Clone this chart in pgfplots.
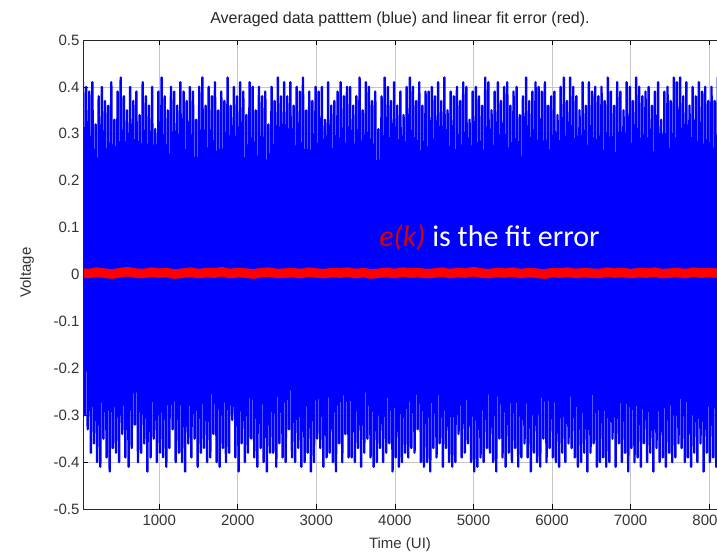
\documentclass[border=0pt]{standalone}
\usepackage{pgfplots}
\pgfplotsset{compat=1.18}
\usepackage{pgfplotstable}
\usepackage{fontspec}
\setmainfont{Liberation Sans}
\newfontfamily\calib{Carlito}

\pgfplotstableread[row sep=\\]{
y\\
0.41\\-0.30\\0.40\\-0.33\\0.39\\-0.38\\0.41\\-0.36\\0.32\\-0.40\\
0.38\\-0.41\\0.40\\-0.35\\0.37\\-0.39\\0.36\\-0.42\\0.41\\-0.37\\
0.33\\-0.38\\0.39\\-0.40\\0.42\\-0.34\\0.38\\-0.39\\0.35\\-0.41\\
0.40\\-0.37\\0.37\\-0.32\\0.39\\-0.40\\0.34\\-0.38\\0.41\\-0.36\\
0.38\\-0.42\\0.36\\-0.39\\0.40\\-0.35\\0.31\\-0.40\\0.39\\-0.38\\
0.42\\-0.39\\0.38\\-0.41\\0.35\\-0.37\\0.40\\-0.33\\0.39\\-0.40\\
0.36\\-0.38\\0.41\\-0.40\\0.39\\-0.42\\0.37\\-0.36\\0.40\\-0.39\\
0.39\\-0.35\\0.33\\-0.41\\0.40\\-0.38\\0.42\\-0.37\\0.36\\-0.40\\
0.40\\-0.39\\0.38\\-0.34\\0.41\\-0.40\\0.35\\-0.41\\0.39\\-0.37\\
0.37\\-0.40\\0.42\\-0.38\\0.36\\-0.31\\0.40\\-0.39\\0.38\\-0.42\\
0.41\\-0.36\\0.39\\-0.40\\0.34\\-0.38\\0.41\\-0.35\\0.40\\-0.39\\
0.35\\-0.41\\0.40\\-0.37\\0.38\\-0.40\\0.39\\-0.42\\0.32\\-0.38\\
0.40\\-0.38\\0.37\\-0.41\\0.42\\-0.36\\0.38\\-0.39\\0.41\\-0.40\\
0.38\\-0.33\\0.41\\-0.39\\0.36\\-0.40\\0.40\\-0.37\\0.39\\-0.41\\
0.42\\-0.40\\0.35\\-0.38\\0.39\\-0.42\\0.37\\-0.40\\0.40\\-0.35\\
0.39\\-0.37\\0.40\\-0.41\\0.33\\-0.39\\0.41\\-0.38\\0.36\\-0.40\\
0.37\\-0.42\\0.39\\-0.36\\0.41\\-0.40\\0.38\\-0.34\\0.40\\-0.39\\
0.40\\-0.39\\0.36\\-0.40\\0.38\\-0.37\\0.42\\-0.41\\0.35\\-0.38\\
0.41\\-0.35\\0.40\\-0.39\\0.37\\-0.41\\0.39\\-0.40\\0.31\\-0.37\\
0.38\\-0.40\\0.42\\-0.38\\0.40\\-0.36\\0.37\\-0.42\\0.41\\-0.39\\
0.36\\-0.41\\0.39\\-0.40\\0.34\\-0.38\\0.40\\-0.39\\0.42\\-0.37\\
0.40\\-0.38\\0.37\\-0.33\\0.41\\-0.40\\0.36\\-0.41\\0.39\\-0.40\\
0.39\\-0.42\\0.40\\-0.37\\0.38\\-0.39\\0.41\\-0.36\\0.37\\-0.41\\
0.42\\-0.37\\0.35\\-0.40\\0.39\\-0.41\\0.38\\-0.40\\0.40\\-0.34\\
0.37\\-0.39\\0.41\\-0.38\\0.40\\-0.36\\0.33\\-0.40\\0.39\\-0.42\\
0.40\\-0.41\\0.38\\-0.39\\0.36\\-0.40\\0.42\\-0.37\\0.41\\-0.38\\
0.35\\-0.40\\0.39\\-0.42\\0.41\\-0.35\\0.37\\-0.39\\0.40\\-0.41\\
0.41\\-0.38\\0.36\\-0.40\\0.39\\-0.37\\0.40\\-0.41\\0.34\\-0.39\\
0.38\\-0.36\\0.42\\-0.39\\0.37\\-0.42\\0.39\\-0.38\\0.41\\-0.40\\
0.40\\-0.41\\0.39\\-0.35\\0.41\\-0.40\\0.36\\-0.37\\0.38\\-0.39\\
0.39\\-0.40\\0.34\\-0.41\\0.40\\-0.38\\0.42\\-0.40\\0.37\\-0.36\\
0.42\\-0.37\\0.40\\-0.39\\0.38\\-0.41\\0.35\\-0.40\\0.41\\-0.38\\
0.36\\-0.42\\0.41\\-0.38\\0.39\\-0.36\\0.40\\-0.41\\0.38\\-0.40\\
0.40\\-0.39\\0.37\\-0.41\\0.42\\-0.40\\0.39\\-0.35\\0.36\\-0.41\\
0.41\\-0.36\\0.39\\-0.40\\0.35\\-0.38\\0.41\\-0.42\\0.40\\-0.37\\
0.37\\-0.40\\0.42\\-0.39\\0.40\\-0.41\\0.38\\-0.36\\0.39\\-0.40\\
0.40\\-0.38\\0.36\\-0.42\\0.39\\-0.37\\0.41\\-0.40\\0.33\\-0.39\\
0.39\\-0.41\\0.40\\-0.38\\0.37\\-0.40\\0.42\\-0.39\\0.41\\-0.36\\
0.42\\-0.37\\0.38\\-0.40\\0.41\\-0.39\\0.36\\-0.41\\0.40\\-0.38\\
0.38\\-0.40\\0.41\\-0.36\\0.39\\-0.42\\0.40\\-0.38\\0.37\\-0.40\\
0.40\\-0.39\\0.37\\-0.41\\0.42\\-0.38\\0.39\\-0.40\\0.41\\-0.37\\
}\bluedata

\pgfplotstableread[row sep=\\]{
x y\\
0 0.004\\ 100 0.002\\ 200 0.005\\ 300 0.003\\ 400 0.001\\ 500 0.004\\ 600 0.006\\ 700 0.003\\ 800 0.002\\ 900 0.005\\
1000 0.003\\ 1100 0.004\\ 1200 0.001\\ 1300 0.003\\ 1400 0.005\\ 1500 0.002\\ 1600 0.004\\ 1700 0.003\\ 1800 0.006\\ 1900 0.002\\
2000 0.004\\ 2100 0.003\\ 2200 0.001\\ 2300 0.004\\ 2400 0.005\\ 2500 0.002\\ 2600 0.003\\ 2700 0.004\\ 2800 0.002\\ 2900 0.005\\
3000 0.003\\ 3100 0.002\\ 3200 0.004\\ 3300 0.003\\ 3400 0.005\\ 3500 0.002\\ 3600 0.004\\ 3700 0.001\\ 3800 0.003\\ 3900 0.004\\
4000 0.002\\ 4100 0.005\\ 4200 0.003\\ 4300 0.004\\ 4400 0.002\\ 4500 0.003\\ 4600 0.005\\ 4700 0.002\\ 4800 0.004\\ 4900 0.003\\
5000 0.006\\ 5100 0.003\\ 5200 0.002\\ 5300 0.004\\ 5400 0.003\\ 5500 0.005\\ 5600 0.002\\ 5700 0.004\\ 5800 0.003\\ 5900 0.001\\
6000 0.004\\ 6100 0.003\\ 6200 0.005\\ 6300 0.002\\ 6400 0.004\\ 6500 0.003\\ 6600 0.002\\ 6700 0.005\\ 6800 0.003\\ 6900 0.004\\
7000 0.002\\ 7100 0.004\\ 7200 0.003\\ 7300 0.005\\ 7400 0.002\\ 7500 0.003\\ 7600 0.004\\ 7700 0.002\\ 7800 0.005\\ 7900 0.003\\
8000 0.004\\ 8100 0.003\\ 8200 0.004\\
}\reddata

\begin{document}
\begin{tikzpicture}
\begin{axis}[
  name=ax,
  scale only axis,
  width=634pt, height=469pt,
  xmin=30, xmax=8100,
  ymin=-0.5, ymax=0.5,
  xtick={1000,2000,3000,4000,5000,6000,7000,8000},
  ytick={-0.5,-0.4,-0.3,-0.2,-0.1,0,0.1,0.2,0.3,0.4,0.5},
  yticklabels={-0.5,-0.4,-0.3,-0.2,-0.1,0,0.1,0.2,0.3,0.4,0.5},
  scaled ticks=false,
  /pgf/number format/1000 sep={},
  /pgf/number format/assume math mode=true,
  tick label style={font=\fontsize{15}{18}\selectfont, text=black!80},
  xticklabel style={yshift=-2pt},
  tick align=inside,
  major tick length=5pt,
  xtick pos=both,
  ytick pos=left,
  tick style={black, line width=0.6pt},
  grid=major,
  grid style={gray!45, line width=0.7pt},
  axis line style={draw=none},
  clip=true,
]
\addplot[blue, line width=2.4pt, line join=round] table[x expr=30+\coordindex*20, y=y] {\bluedata};
\addplot[red, line width=9.5pt] table[x=x, y=y] {\reddata};
\node[anchor=west, inner sep=0pt, text=white, font=\calib\fontsize{30}{33}\selectfont] at (axis cs:3800,0.078) {\textcolor{red!85!black}{\itshape e(k)} is the fit error};
\end{axis}
\draw[black!85, line width=0.8pt] (ax.south east) -- (ax.south west) -- (ax.north west) -- (ax.north east);
\node[font=\fontsize{16}{19}\selectfont, text=black!85] at ([yshift=21pt]ax.north) {Averaged data patttem (blue) and linear fit error (red).};
\node[font=\fontsize{15}{18}\selectfont, text=black!80] at ([yshift=-36pt]ax.south) {Time (UI)};
\node[rotate=90, font=\fontsize{15}{18}\selectfont, text=black!80] at ([xshift=-56pt,yshift=2pt]ax.west) {Voltage};
\pgfresetboundingbox
\path (ax.south west) ++(-83pt,-47pt) rectangle ++(717pt,556pt);
\end{tikzpicture}
\end{document}
